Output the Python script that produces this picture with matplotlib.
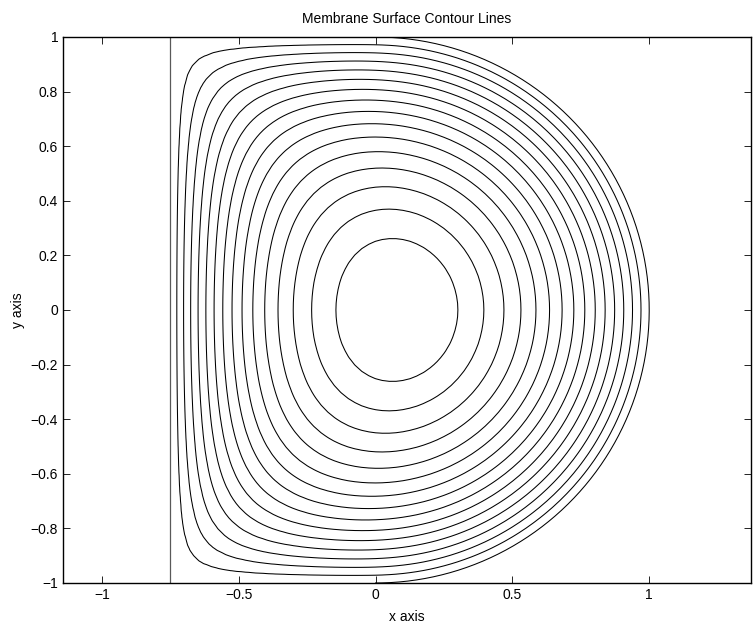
import numpy as np
import matplotlib
matplotlib.use("Agg")
import matplotlib.pyplot as plt
import matplotlib.tri as mtri
from matplotlib.ticker import FuncFormatter

plt.rcParams['font.family'] = ['Liberation Sans', 'DejaVu Sans']

# domain of the membrane: rectangle [x_left, 0] x [-1, 1] joined to a half disc
x_left = -0.75
radius = 1.0
h = 0.025          # grid step
n_levels = 16      # contour lines incl. the rim

x_ticks = [-1, -0.5, 0, 0.5, 1]
y_ticks = [-1, -0.8, -0.6, -0.4, -0.2, 0, 0.2, 0.4, 0.6, 0.8, 1]


def solve_membrane(h, n_iter=3000, omega=1.9):
    # -lap(u) = 1, u = 0 on the rim (Shortley-Weller stencil at the arc)
    xs = np.arange(x_left, radius + h / 2, h)
    ys = np.arange(-radius, radius + h / 2, h)
    X, Y = np.meshgrid(xs, ys)
    eps = 1e-9
    inside = (X > x_left + eps) & (np.abs(Y) < radius - eps) & \
             ((X <= 0) | (X ** 2 + Y ** 2 < radius ** 2 - eps))
    yc = np.sqrt(np.clip(radius ** 2 - Y ** 2, 0, None))
    xc = np.sqrt(np.clip(radius ** 2 - X ** 2, 0, None))
    ytop = np.where(X <= 0, radius, xc)
    dE = np.clip(np.minimum(h, yc - X), 1e-6, None)
    dW = np.clip(np.minimum(h, X - x_left), 1e-6, None)
    dN = np.clip(np.minimum(h, ytop - Y), 1e-6, None)
    dS = np.clip(np.minimum(h, ytop + Y), 1e-6, None)
    A = 2 / (dE * dW) + 2 / (dN * dS)
    cx = 2 / (dE + dW)
    cy = 2 / (dN + dS)
    ii, jj = np.indices(X.shape)
    red = inside & ((ii + jj) % 2 == 0)
    black = inside & ((ii + jj) % 2 == 1)
    U = np.zeros_like(X)
    for _ in range(n_iter):
        for m in (red, black):
            uE = np.roll(U, -1, axis=1)
            uW = np.roll(U, 1, axis=1)
            uN = np.roll(U, -1, axis=0)
            uS = np.roll(U, 1, axis=0)
            gs = (cx * (uE / dE + uW / dW) + cy * (uN / dN + uS / dS) + 1) / A
            U[m] += omega * (gs[m] - U[m])
    return X[inside], Y[inside], U[inside], xs, ys


px, py, pu, xs, ys = solve_membrane(h)

# rim points (u = 0)
bx = [np.full(ys.size, x_left), xs[xs <= 0], xs[xs <= 0]]
by = [ys, np.full((xs <= 0).sum(), radius), np.full((xs <= 0).sum(), -radius)]
yy = ys[np.abs(ys) < radius]
bx.append(np.sqrt(radius ** 2 - yy ** 2)); by.append(yy)
xx = xs[(xs > 0) & (xs < radius)]
bx += [xx, xx]; by += [np.sqrt(radius ** 2 - xx ** 2), -np.sqrt(radius ** 2 - xx ** 2)]
bx = np.concatenate(bx); by = np.concatenate(by)
rim = np.unique(np.round(np.column_stack([bx, by]), 9), axis=0)

allx = np.concatenate([px, rim[:, 0]])
ally = np.concatenate([py, rim[:, 1]])
allu = np.concatenate([pu, np.zeros(len(rim))])
tri = mtri.Triangulation(allx, ally)

levels = np.linspace(0, pu.max(), n_levels + 1)[1:-1]

fig = plt.figure(figsize=(7.53, 6.27), dpi=100)
ax = fig.add_axes([0.0837, 0.0702, 0.9133, 0.8708])

ax.tricontour(tri, allu, levels=levels, colors='k', linewidths=0.75)

# rim of the membrane
t = np.linspace(np.pi / 2, -np.pi / 2, 400)
ax.plot(radius * np.cos(t), radius * np.sin(t), color='k', lw=0.75)
ax.plot([x_left, x_left], [-radius, radius], color='0.35', lw=0.9)

ax.set_xlim(-1.142, 1.371)
ax.set_ylim(-1, 1)
ax.set_xticks(x_ticks)
ax.set_yticks(y_ticks)
fmt = FuncFormatter(lambda v, p: ('%g' % v).replace('-', '\u2212'))
ax.xaxis.set_major_formatter(fmt)
ax.yaxis.set_major_formatter(fmt)
ax.tick_params(direction='in', top=True, right=True, length=5, width=0.6,
               labelsize=10)
for s in ax.spines.values():
    s.set_linewidth(1.0)

ax.set_title('Membrane Surface Contour Lines', fontsize=10, pad=10)
ax.set_xlabel('x axis', fontsize=10, labelpad=6)
ax.set_ylabel('y axis', fontsize=10, labelpad=4)

fig.savefig('out.png', dpi=100)
